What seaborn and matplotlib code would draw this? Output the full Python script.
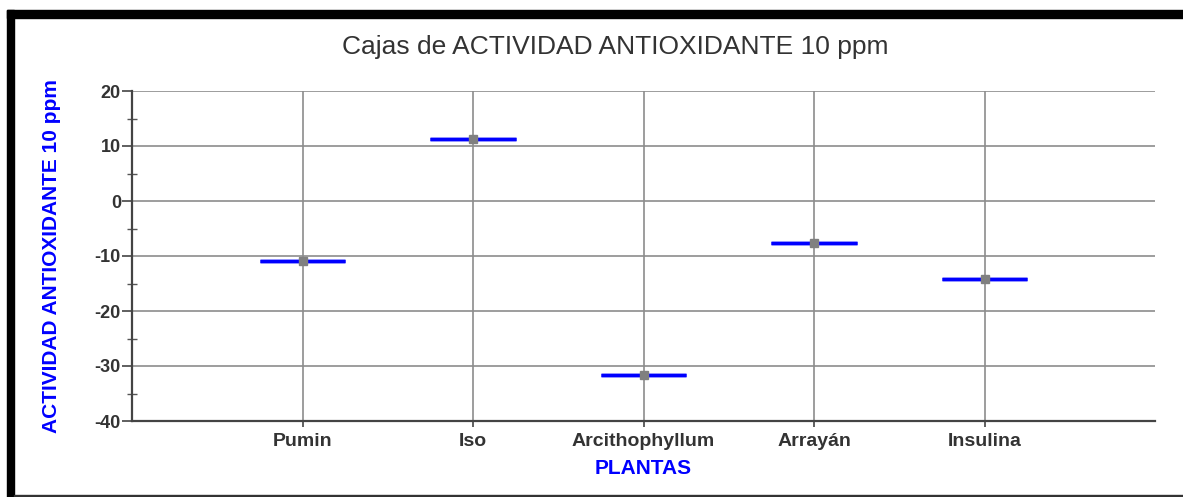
import numpy as np
import pandas as pd
import matplotlib
matplotlib.use("Agg")
import matplotlib.pyplot as plt
from matplotlib.patches import Rectangle
from matplotlib.ticker import MultipleLocator
import seaborn as sns

plantas = ["Pumin", "Iso", "Arcithophyllum", "Arrayán", "Insulina"]
actividad = [-10.9, 11.3, -31.7, -7.6, -14.1]

df = pd.DataFrame({"PLANTAS": plantas, "ACTIVIDAD": actividad})

sns.set_style("white")
plt.rcParams["font.family"] = ["Liberation Sans", "DejaVu Sans"]
plt.rcParams["axes.unicode_minus"] = False

fig = plt.figure(figsize=(11.83, 4.97), dpi=100)
ax = fig.add_axes([132 / 1183, 1 - 421 / 497, 1023 / 1183, 330 / 497])

# one value per plant -> box collapses to a single median line
sns.boxplot(data=df, x="PLANTAS", y="ACTIVIDAD", order=plantas, width=0.5,
            showmeans=True, showfliers=False, showcaps=False,
            boxprops=dict(facecolor="none", edgecolor="#0000ff", linewidth=2.5),
            medianprops=dict(color="#0000ff", linewidth=2.5),
            whiskerprops=dict(color="#0000ff", linewidth=0),
            meanprops=dict(marker="s", markerfacecolor="#808080",
                           markeredgecolor="#808080", markersize=6),
            ax=ax, zorder=3)

ax.set_xlim(-1, 5)
ax.set_ylim(-40, 20)
ax.yaxis.set_major_locator(MultipleLocator(10))
ax.yaxis.set_minor_locator(MultipleLocator(5))

ax.grid(True, which="major", color="#8c8c8c", linewidth=1.2)
ax.set_axisbelow(True)
for s in ["top", "right"]:
    ax.spines[s].set_visible(False)
for s in ["left", "bottom"]:
    ax.spines[s].set_color("#444444")
    ax.spines[s].set_linewidth(1.6)

ax.tick_params(which="both", left=True, bottom=True)
ax.tick_params(axis="y", which="major", direction="out", length=7, width=1.2,
               color="#444444", labelsize=13, labelcolor="#333333", pad=1)
ax.tick_params(axis="y", which="minor", direction="inout", length=7, width=1.0,
               color="#555555")
ax.tick_params(axis="x", which="major", direction="out", length=4, width=1.2,
               color="#444444", labelsize=14, labelcolor="#333333", pad=5)
for lab in ax.get_xticklabels() + ax.get_yticklabels():
    lab.set_fontweight("bold")

ax.set_xlabel("PLANTAS", color="#0000ff", fontsize=15, fontweight="bold", labelpad=6)
ax.set_ylabel("ACTIVIDAD ANTIOXIDANTE 10 ppm", color="#0000ff", fontsize=15,
              fontweight="bold")
ax.yaxis.set_label_coords(-71 / 1023, 0.5)

fig.text(615 / 1183, 1 - 47 / 497, "Cajas de ACTIVIDAD ANTIOXIDANTE 10 ppm",
         ha="center", va="center", fontsize=19, color="#333333")

# window frame
fig.patches.append(Rectangle((7, 0), 7, 487, transform=None, color="black"))
fig.patches.append(Rectangle((7, 479), 1176, 8, transform=None, color="black"))
fig.patches.append(Rectangle((14, 0), 1169, 2, transform=None, color="#333333"))

fig.savefig("out.png", dpi=100)
